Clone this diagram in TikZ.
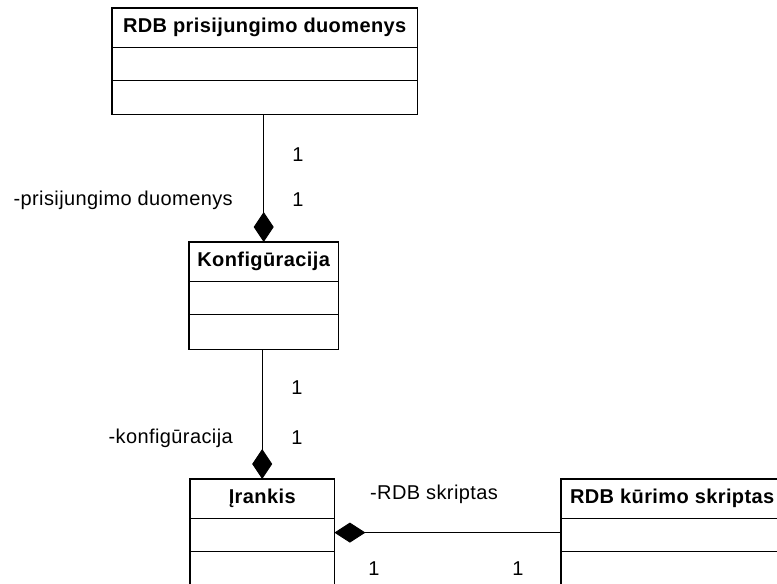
\documentclass[tikz,border=0pt]{standalone}
\usepackage{fontspec}
\setmainfont{Liberation Sans}[LetterSpace=2]
\usetikzlibrary{arrows.meta}
\begin{document}
\begin{tikzpicture}[x=1pt,y=-1pt,
  hdr/.style={anchor=north west,inner sep=0pt,font=\fontsize{20}{23}\selectfont\bfseries},
  comp/.style={anchor=north,inner sep=0pt},
  box/.style={line width=1.2pt},
  lbl/.style={font=\fontsize{20}{23}\selectfont,inner sep=0pt},
  conn/.style={line width=0.9pt},
  comptip/.style={{Diamond[length=30pt,width=20pt]}-}
]
\clip (0,0) rectangle (777,584);
\fill[white] (0,0) rectangle (777,584);

% RDB prisijungimo duomenys
\node[hdr,minimum width=305pt,minimum height=39pt] (rdbH) at (112,8) {RDB prisijungimo duomenys};
\node[comp,minimum width=305pt,minimum height=33pt] (rdbA) at (rdbH.south) {};
\node[comp,minimum width=305pt,minimum height=33pt] (rdbO) at (rdbA.south) {};
\draw[box] (rdbH.north west) rectangle (rdbO.south east);
\draw[box] (rdbA.north west) -- (rdbA.north east) (rdbO.north west) -- (rdbO.north east);

% Konfiguracija
\node[hdr,minimum width=149pt,minimum height=39pt] (konH) at (189,242) {Konfigūracija};
\node[comp,minimum width=149pt,minimum height=33pt] (konA) at (konH.south) {};
\node[comp,minimum width=149pt,minimum height=34pt] (konO) at (konA.south) {};
\draw[box] (konH.north west) rectangle (konO.south east);
\draw[box] (konA.north west) -- (konA.north east) (konO.north west) -- (konO.north east);

% Irankis
\node[hdr,minimum width=144pt,minimum height=39pt] (irH) at (190,479) {Įrankis};
\node[comp,minimum width=144pt,minimum height=33pt] (irA) at (irH.south) {};
\node[comp,minimum width=144pt,minimum height=45pt] (irO) at (irA.south) {};
\draw[box] (irH.north west) rectangle (irO.south east);
\draw[box] (irA.north west) -- (irA.north east) (irO.north west) -- (irO.north east);

% RDB kurimo skriptas
\node[hdr,minimum width=222pt,minimum height=39pt] (kurH) at (561,479) {RDB kūrimo skriptas};
\node[comp,minimum width=222pt,minimum height=33pt] (kurA) at (kurH.south) {};
\node[comp,minimum width=222pt,minimum height=45pt] (kurO) at (kurA.south) {};
\draw[box] (kurH.north west) rectangle (kurO.south east);
\draw[box] (kurA.north west) -- (kurA.north east) (kurO.north west) -- (kurO.north east);

% connectors
\draw[conn,comptip] (konH.north) -- (konH.north |- rdbO.south);
\draw[conn,comptip] (irH.north) -- (irH.north |- konO.south);
\draw[conn,{Diamond[length=31pt,width=20pt]}-] ([yshift=2.5pt]irA.east) -- ([yshift=2.5pt]irA.east -| kurA.west);

% labels
\node[lbl] (m1a) at (298,155) {1};
\node[lbl] (m1b) at (298,200) {1};
\node[lbl,anchor=east] (r1) at (233,200) {-prisijungimo duomenys};
\node[lbl] (m2a) at (297,388) {1};
\node[lbl] (m2b) at (297,438) {1};
\node[lbl,anchor=east] (r2) at (233,438) {-konfigūracija};
\node[lbl] (r3) at (434,494) {-RDB skriptas};
\node[lbl] (m3a) at (374,569) {1};
\node[lbl] (m3b) at (518,569) {1};
\end{tikzpicture}
\end{document}
